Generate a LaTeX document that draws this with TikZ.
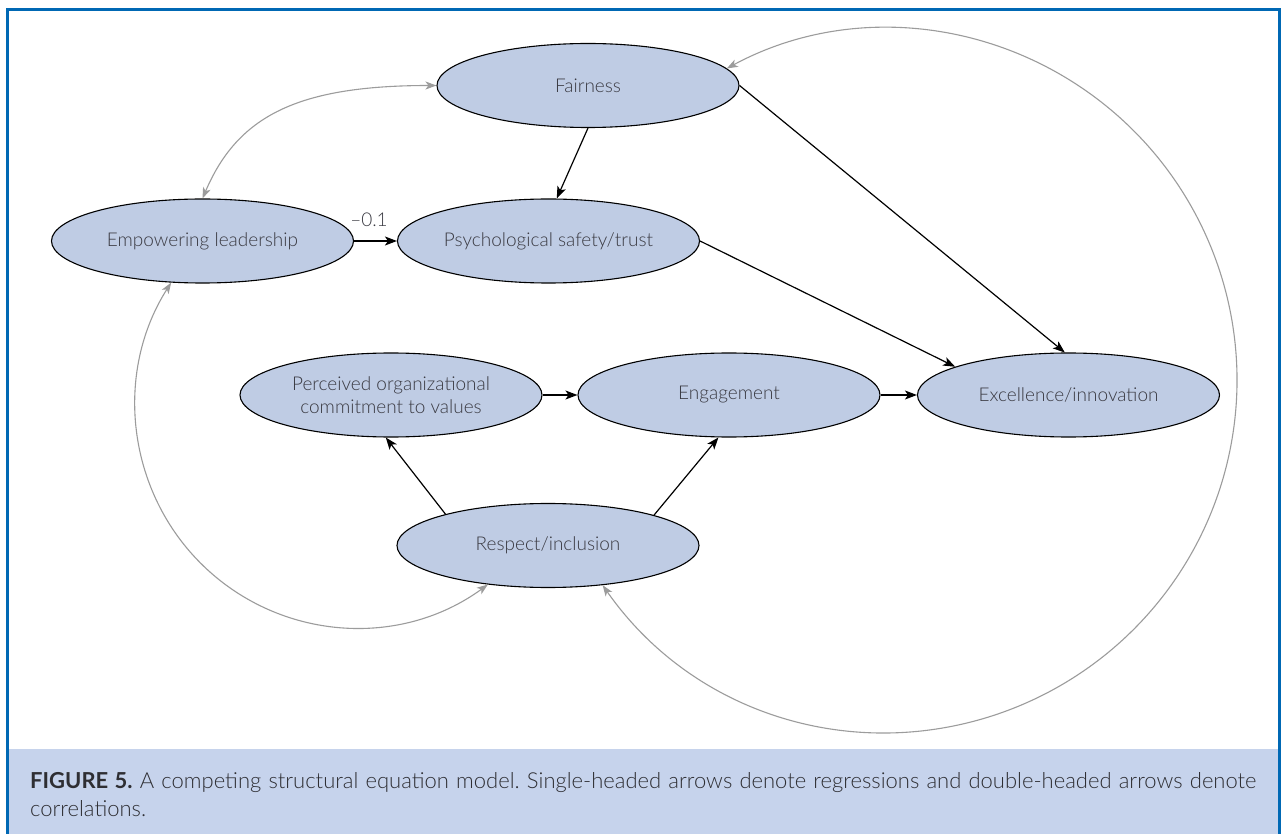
\documentclass[tikz,border=0pt]{standalone}
\usepackage{fontspec}
\setmainfont{Lato}[UprightFont=* Light, BoldFont=* Bold]
\usetikzlibrary{shapes.geometric,arrows.meta}
\definecolor{ellfill}{HTML}{BFCCE4}
\definecolor{capfill}{HTML}{C6D3EC}
\definecolor{frameblue}{HTML}{0068B4}
\definecolor{txtgray}{HTML}{3A3A42}
\definecolor{captxt}{HTML}{2E2E33}
\definecolor{corrgray}{HTML}{9C9C9C}
\frenchspacing
\begin{document}
\begin{tikzpicture}[x=1pt,y=-1pt,
  ell/.style={ellipse, draw=black, line width=1.1pt, fill=ellfill,
    minimum width=302pt, minimum height=84pt, inner sep=0pt,
    text=txtgray, font=\fontsize{19}{23}\selectfont, align=center},
  reg/.style={line width=1.2pt, -{Stealth[length=12pt,width=9pt,inset=3pt]}},
  corr/.style={line width=1.1pt, draw=corrgray,
    {Stealth[length=11pt,width=8pt,inset=3pt]}-{Stealth[length=11pt,width=8pt,inset=3pt]}},
  lbl/.style={text=txtgray, font=\fontsize{19}{23}\selectfont, inner sep=0pt}
]
\useasboundingbox (0,0) rectangle (1286,834);
\fill[white] (0,0) rectangle (1286,834);
\fill[capfill] (9,749) rectangle (1278,834);
\draw[frameblue, line width=3.5pt] (7.5,834) -- (7.5,9.5) -- (1279.5,9.5) -- (1279.5,834);

\node[ell] (fair) at (588,85.5) {Fairness};
\node[ell] (emp) at (202.5,241) {Empowering leadership};
\node[ell] (psy) at (548.5,241) {Psychological safety/trust};
\node[ell] (per) at (391,395) {Perceived organizational\\commitment to values};
\node[ell] (eng) at (729,395) {Engagement};
\node[ell] (exc) at (1068.5,395) {Excellence/innovation};
\node[ell] (res) at (548,545.5) {Respect/inclusion};

\node[lbl] (w) at (369,220) {–0.1};

\draw[reg] (fair.south) -- (psy.79);
\draw[reg] (fair.east) -- (exc.95);
\draw[reg] (psy.east) -- (exc.166);
\draw[reg] (emp.east) -- (psy.west);
\draw[reg] (per.east) -- (eng.west);
\draw[reg] (eng.east) -- (exc.west);
\draw[reg] (res.163) -- (per.-97);
\draw[reg] (res.16) -- (eng.-104);

\draw[corr] (fair.west) .. controls (297,85.5) and (237.6,116.2) .. (emp.north);
\draw[corr] (emp.-127) .. controls (113.8,372.7) and (126.4,491.6) .. (203.5,566)
  .. controls (280.6,640.4) and (399.8,648.8) .. (res.-147);
\draw[corr] (fair.7) .. controls (847.8,3.1) and (994.6,18.2) .. (1102.2,102.8)
  .. controls (1209.8,187.4) and (1258.8,326.5) .. (1227.9,459.7)
  .. controls (1197,592.9) and (1091.7,696.3) .. (957.7,725.1)
  .. controls (823.7,753.9) and (685,703) .. (res.-36);

\node[anchor=north west, text width=1226pt, align=justify, inner sep=0pt,
  text=captxt, font=\fontsize{22}{28.5}\selectfont] (cap) at (30,772)
  {\textbf{FIGURE 5.} A competing structural equation model. Single-headed arrows denote regressions and double-headed arrows denote\linebreak correlations.};
\end{tikzpicture}
\end{document}
